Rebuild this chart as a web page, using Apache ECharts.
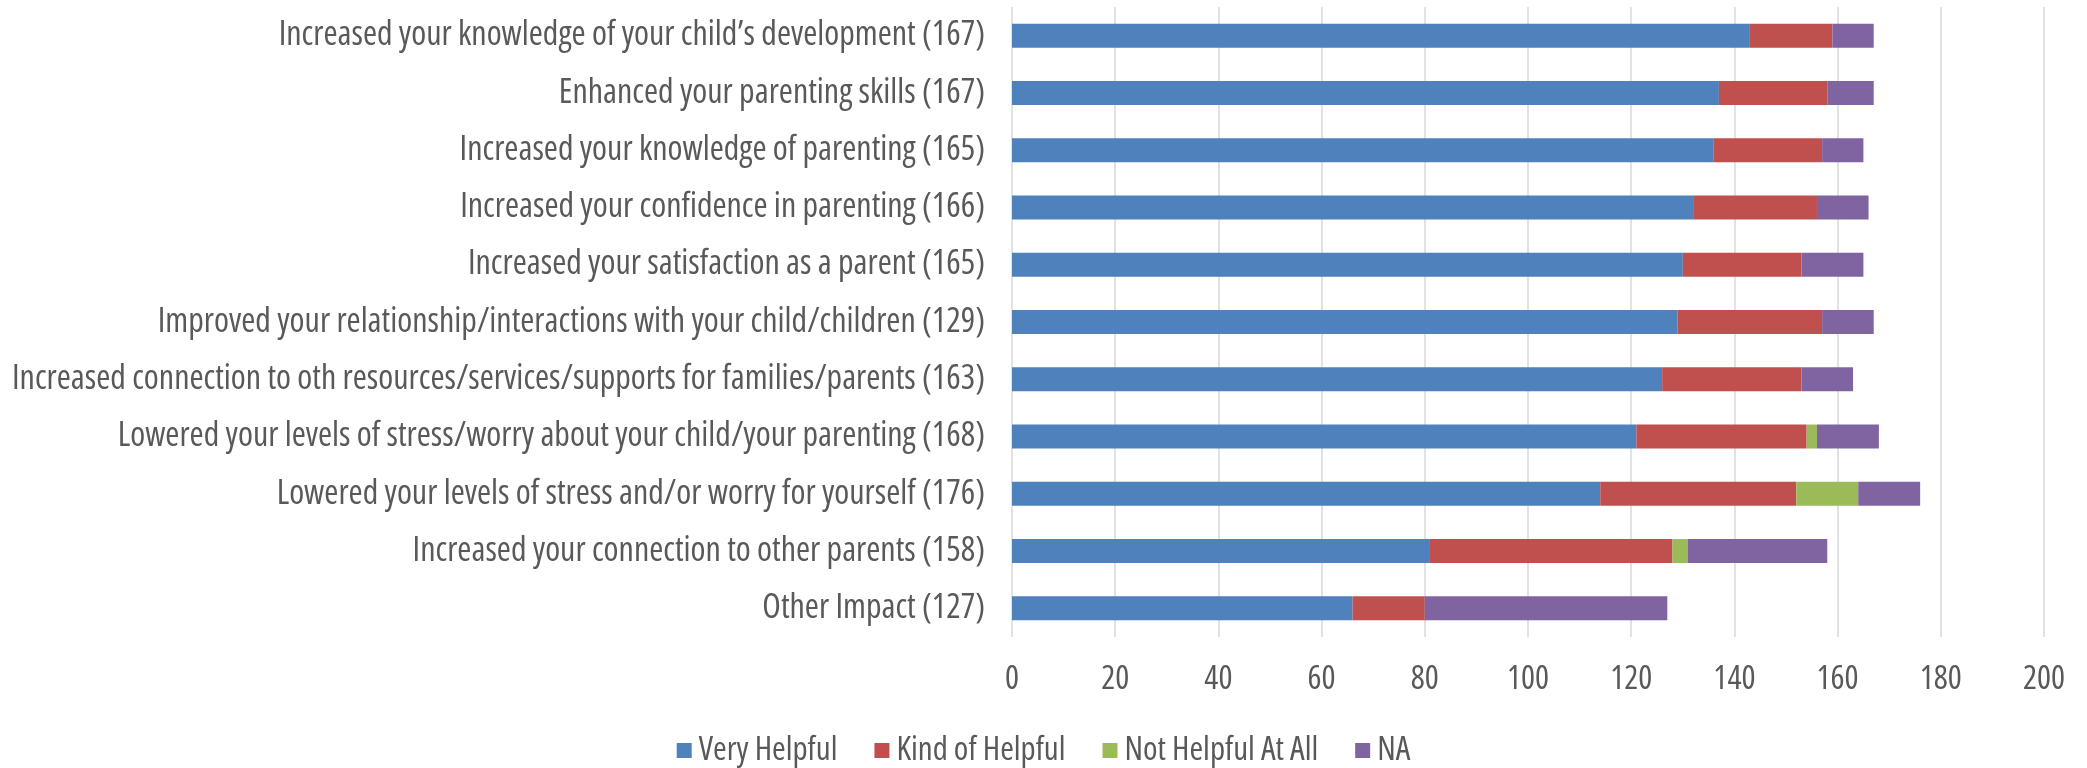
<!DOCTYPE html>
<html>
<head>
<meta charset="utf-8">
<script src="https://cdn.jsdelivr.net/npm/echarts@6/dist/echarts.min.js"></script>
<style>
  html, body { margin: 0; padding: 0; background: #fff; }
  #chart { width: 2087px; height: 768px; }
</style>
</head>
<body>
<div id="chart"></div>
<script>
// categories, top to bottom as in the picture
var categories = [
    "Increased your knowledge of your child\u2019s development (167)",
    "Enhanced your parenting skills (167)",
    "Increased your knowledge of parenting (165)",
    "Increased your confidence in parenting (166)",
    "Increased your satisfaction as a parent (165)",
    "Improved your relationship/interactions with your child/children (129)",
    "Increased connection to oth resources/services/supports for families/parents (163)",
    "Lowered your levels of stress/worry about your child/your parenting (168)",
    "Lowered your levels of stress and/or worry for yourself (176)",
    "Increased your connection to other parents (158)",
    "Other Impact (127)"
];
var veryHelpful   = [143, 137, 136, 132, 130, 129, 126, 121, 114, 81, 66];
var kindOfHelpful = [16, 21, 21, 24, 23, 28, 27, 33, 38, 47, 14];
var notHelpful    = [0, 0, 0, 0, 0, 0, 0, 2, 12, 3, 0];
var na            = [8, 9, 8, 10, 12, 10, 10, 12, 12, 27, 47];

var seriesNames = ["Very Helpful", "Kind of Helpful", "Not Helpful At All", "NA"];
var seriesColors = ["#4F81BD", "#C0504D", "#9BBB59", "#8064A2"];
var seriesData = [veryHelpful, kindOfHelpful, notHelpful, na];

// the labels are a condensed face; canvas drops fontStretch each time font is set,
// so put it back whenever Open Sans is asked for
var fontDesc = Object.getOwnPropertyDescriptor(CanvasRenderingContext2D.prototype, 'font');
Object.defineProperty(CanvasRenderingContext2D.prototype, 'font', {
    configurable: true,
    get: fontDesc.get,
    set: function (v) {
        fontDesc.set.call(this, v);
        this.fontStretch = /Open Sans/.test(v) ? 'condensed' : 'normal';
    }
});

var txt = { color: '#595959', fontFamily: "'Open Sans', sans-serif" };

var option = {
    animation: false,
    textStyle: txt,
    grid: { left: 1012, right: 43, top: 7, bottom: 131, containLabel: false, outerBoundsMode: 'none' },
    legend: {
        top: 729,
        left: 'center',
        itemWidth: 15,
        itemHeight: 15,
        itemGap: 37,
        icon: 'rect',
        textStyle: Object.assign({ fontSize: 33, padding: [0, 0, 0, 2] }, txt),
        data: seriesNames
    },
    xAxis: {
        type: 'value',
        min: 0,
        max: 200,
        interval: 20,
        axisLine: { show: false },
        axisTick: { show: false },
        axisLabel: Object.assign({ fontSize: 33, margin: 26 }, txt),
        splitLine: { lineStyle: { color: '#D9D9D9', width: 1.5 } }
    },
    yAxis: {
        type: 'category',
        inverse: true,
        data: categories,
        axisLine: { show: false },
        axisTick: { show: false },
        axisLabel: Object.assign({ fontSize: 34, margin: 27 }, txt)
    },
    series: seriesNames.map(function (name, i) {
        return {
            name: name,
            type: 'bar',
            stack: 'total',
            barWidth: 24,
            itemStyle: { color: seriesColors[i] },
            data: seriesData[i]
        };
    })
};

var myChart = echarts.init(document.getElementById('chart'));
myChart.setOption(option);
</script>
</body>
</html>
